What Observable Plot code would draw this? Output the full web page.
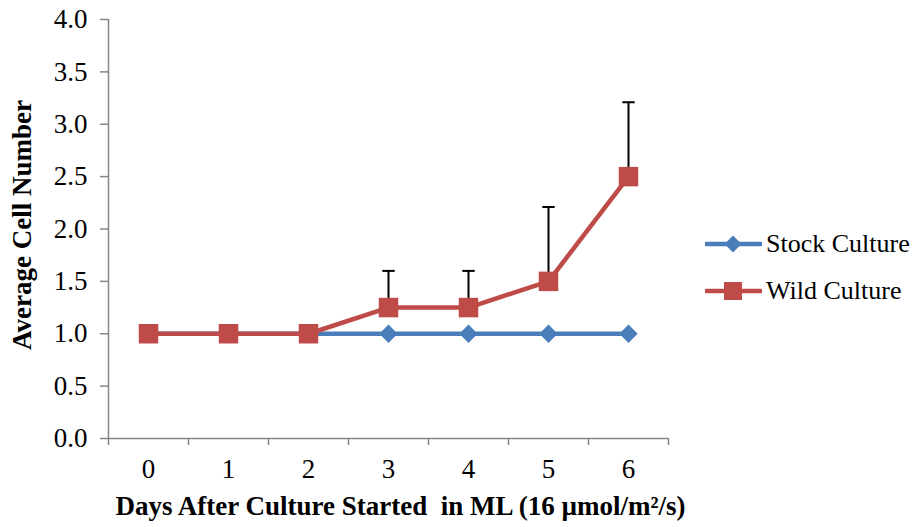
<!DOCTYPE html>
<html>
<head>
<meta charset="utf-8">
<script src="https://cdn.jsdelivr.net/npm/d3@7"></script>
<script src="https://cdn.jsdelivr.net/npm/@observablehq/plot@0.6"></script>
<style>
  body { margin: 0; background: #fff; }
  #wrap { position: relative; width: 916px; height: 527px; font-family: "Liberation Serif", serif; }
  #wrap svg text { font-family: "Liberation Serif", serif; white-space: pre; }
  #legend { position: absolute; left: 705px; top: 229px; font-size: 26px; color: #000; }
  .row { display: flex; align-items: center; height: 30px; margin-bottom: 17px; white-space: nowrap; }
  .row svg { margin-right: 4px; }
</style>
</head>
<body>
<div id="wrap"></div>
<script>
const days = [0, 1, 2, 3, 4, 5, 6];
const xTickLabels = ["0", "1", "2", "3", "4", "5", "6"];
const stockValues = [1, 1, 1, 1, 1, 1, 1];
const wildValues = [1, 1, 1, 1.25, 1.25, 1.5, 2.5];
const wildUpper = [null, null, null, 1.6, 1.6, 2.21, 3.21];
const yTicks = [0, 0.5, 1, 1.5, 2, 2.5, 3, 3.5, 4];
const seriesNames = ["Stock Culture", "Wild Culture"];
const seriesColors = ["#4A7EBB", "#BE4B48"];
const xTitle = "Days After Culture Started  in ML (16 µmol/m²/s)";
const yTitle = "Average Cell Number";

const stock = days.map((d, i) => ({day: d, value: stockValues[i]}));
const wild = days.map((d, i) => ({day: d, value: wildValues[i], upper: wildUpper[i]}));
const errs = wild.filter(d => d.upper != null);
const boundaries = days.map(d => d - 0.5).concat([days[days.length - 1] + 0.5]);

const capSymbol = {
  draw(ctx, size) {
    const w = Math.sqrt(size);
    ctx.moveTo(-w / 2, 0);
    ctx.lineTo(w / 2, 0);
  }
};

const font = "'Liberation Serif', serif";
const axisGray = "#868686";

const chart = Plot.plot({
  width: 916,
  height: 527,
  marginLeft: 108,
  marginRight: 248,
  marginTop: 19,
  marginBottom: 89,
  style: {fontFamily: font, fontSize: "27px", color: "#000", background: "#fff"},
  x: {domain: [boundaries[0], boundaries[boundaries.length - 1]]},
  y: {domain: [0, 4]},
  marks: [
    Plot.ruleX([boundaries[0]], {stroke: axisGray, strokeWidth: 1.5}),
    Plot.axisY({ticks: yTicks, tickFormat: d3.format(".1f"), tickSize: 8, tickPadding: 13, stroke: axisGray, strokeWidth: 1.5, fill: "#000", fontSize: 27, label: null}),
    Plot.ruleY([0], {stroke: axisGray, strokeWidth: 1.5}),
    Plot.axisX({ticks: boundaries, tickFormat: () => "", tickSize: 7, stroke: axisGray, strokeWidth: 1.5, label: null}),
    Plot.axisX({ticks: days, tickFormat: (d, i) => xTickLabels[i], tickSize: 0, tickPadding: 20, fill: "#000", fontSize: 27, label: null}),
    Plot.text([xTitle], {frameAnchor: "bottom", textAnchor: "middle", dy: 76, dx: 12, fontWeight: "bold", fontSize: 27, fill: "#000"}),
    Plot.text([yTitle], {frameAnchor: "left", textAnchor: "middle", dx: -86, dy: -4, rotate: -90, fontWeight: "bold", fontSize: 27, fill: "#000"}),
    Plot.line(stock, {x: "day", y: "value", stroke: seriesColors[0], strokeWidth: 4.5}),
    Plot.dot(stock, {x: "day", y: "value", symbol: "square", r: 7.3, rotate: 45, fill: seriesColors[0], stroke: "none"}),
    Plot.ruleX(errs, {x: "day", y1: "value", y2: "upper", stroke: "#000", strokeWidth: 2}),
    Plot.dot(errs, {x: "day", y: "upper", symbol: capSymbol, r: 7, stroke: "#000", strokeWidth: 2, fill: "none"}),
    Plot.line(wild, {x: "day", y: "value", stroke: seriesColors[1], strokeWidth: 4.5}),
    Plot.dot(wild, {x: "day", y: "value", symbol: "square", r: 11, fill: seriesColors[1], stroke: "none"})
  ]
});

d3.select(chart).selectAll("text")
  .style("font-family", font)
  .style("font-size", "27px");

const wrap = document.getElementById("wrap");
wrap.appendChild(chart);

const legend = document.createElement("div");
legend.id = "legend";
seriesNames.forEach((name, i) => {
  const row = document.createElement("div");
  row.className = "row";
  const marker = i === 0
    ? `<rect x="22" y="9" width="12" height="12" fill="${seriesColors[i]}" transform="rotate(45 28 15)"/>`
    : `<rect x="19" y="6" width="18" height="18" fill="${seriesColors[i]}"/>`;
  row.innerHTML = `<svg width="57" height="30"><line x1="1" y1="15" x2="56" y2="15" stroke="${seriesColors[i]}" stroke-width="4.5" stroke-linecap="round"/>${marker}</svg><span>${name}</span>`;
  legend.appendChild(row);
});
wrap.appendChild(legend);
</script>
</body>
</html>
